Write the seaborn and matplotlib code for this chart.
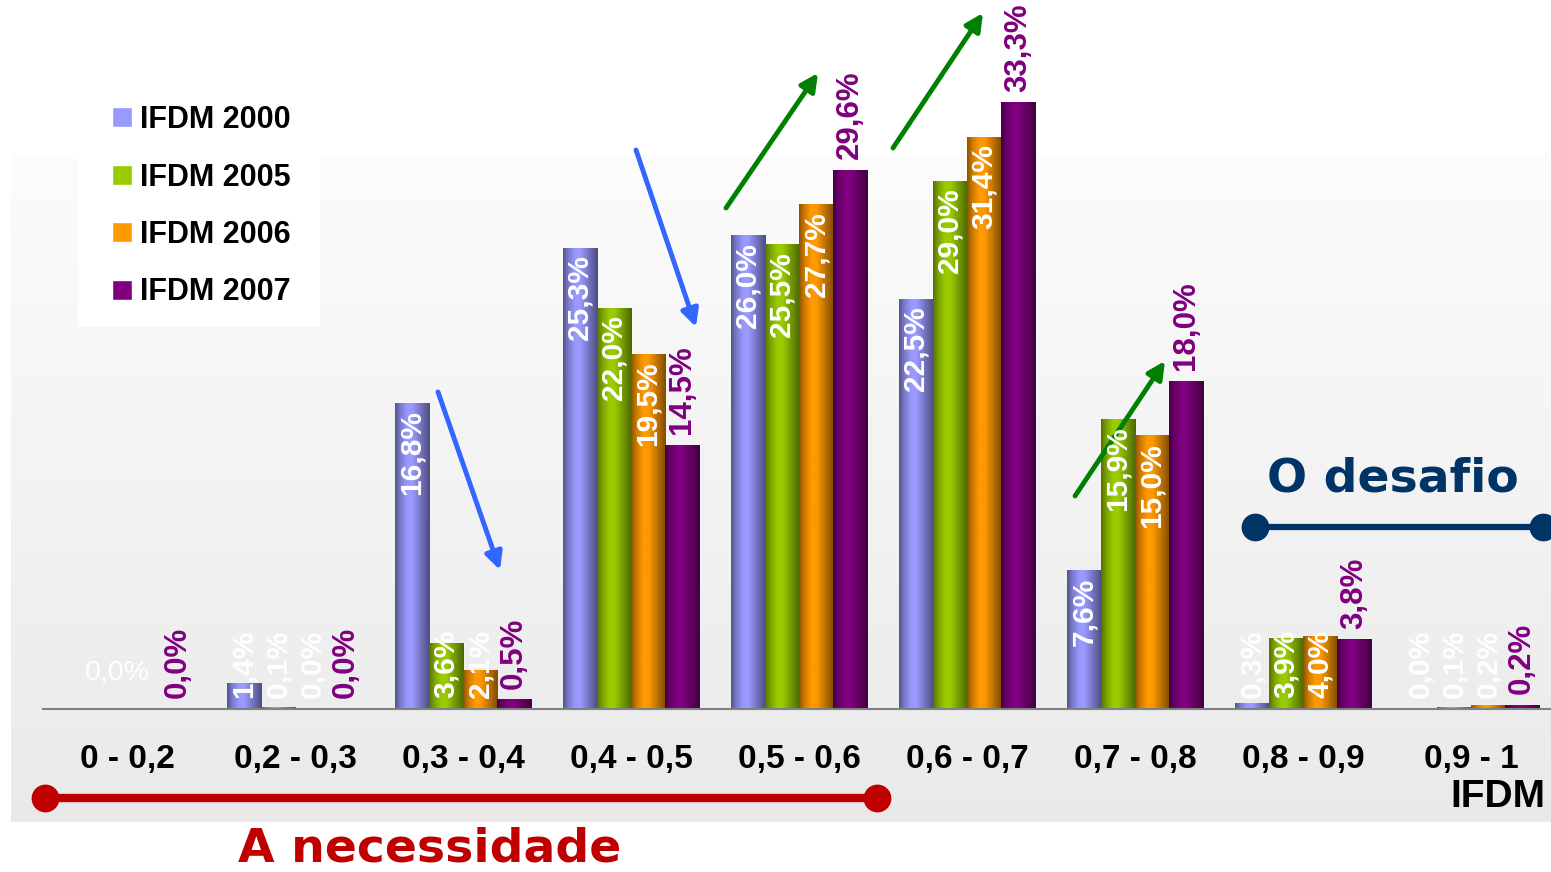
import numpy as np
import pandas as pd
import seaborn as sns
import matplotlib.pyplot as plt
import matplotlib.colors as mcolors
from matplotlib.lines import Line2D
from matplotlib.patches import Rectangle

# data
faixas = ['0 - 0,2', '0,2 - 0,3', '0,3 - 0,4', '0,4 - 0,5', '0,5 - 0,6',
          '0,6 - 0,7', '0,7 - 0,8', '0,8 - 0,9', '0,9 - 1']
series = ['IFDM 2000', 'IFDM 2005', 'IFDM 2006', 'IFDM 2007']
ifdm_2000 = [0.0, 1.4, 16.8, 25.3, 26.0, 22.5, 7.6, 0.3, 0.0]
ifdm_2005 = [0.0, 0.1, 3.6, 22.0, 25.5, 29.0, 15.9, 3.9, 0.1]
ifdm_2006 = [0.0, 0.0, 2.1, 19.5, 27.7, 31.4, 15.0, 4.0, 0.2]
ifdm_2007 = [0.0, 0.0, 0.5, 14.5, 29.6, 33.3, 18.0, 3.8, 0.2]
# labels that are not shown in the original (series index, group index)
hidden_labels = {(1, 0), (2, 0)}

mid_colors = ['#9999ff', '#99cc00', '#ff9900', '#800080']

W, H = 1551, 872


def px(x, y):
    """pixel position (from top-left) to figure fraction"""
    return x / W, 1 - y / H


def fmt(v):
    return f'{v:.1f}%'.replace('.', ',')


def bar_gradient(color, n=64):
    """horizontal shading so the bars look like cylinders"""
    t = np.linspace(0, 1, n)
    m = np.interp(t, [0, 0.15, 0.35, 0.5, 0.8, 1], [0.55, 0.8, 1.0, 1.0, 0.7, 0.5])
    rgb = np.array(mcolors.to_rgb(color))
    return (rgb[None, :] * m[:, None])[None, :, :]


df = pd.DataFrame({'Faixa': faixas * 4,
                   'Serie': np.repeat(series, len(faixas)),
                   'Valor': ifdm_2000 + ifdm_2005 + ifdm_2006 + ifdm_2007})

sns.set_style('white')
plt.rcParams['font.family'] = ['Liberation Sans', 'DejaVu Sans']

fig = plt.figure(figsize=(W / 100, H / 100), dpi=100)

# grey gradient panel behind the chart
bg = fig.add_axes([11 / W, (H - 822) / H, (W - 11) / W, (822 - 154) / H], zorder=0)
grad = np.linspace(0.985, 0.912, 200)[:, None]
bg.imshow(np.repeat(grad, 2, axis=1), cmap='gray', vmin=0, vmax=1, aspect='auto')
bg.axis('off')

# white box behind the legend
fig.add_artist(Rectangle(px(78, 327), (320 - 78) / W, (327 - 80) / H,
                         transform=fig.transFigure, facecolor='white',
                         edgecolor='none', zorder=0.5))

ax = fig.add_axes([43 / W, (H - 709) / H, 1512 / W, 38 * 18.2 / H], zorder=1)
ax.set_facecolor('none')

sns.barplot(data=df, x='Faixa', y='Valor', hue='Serie', palette=mid_colors,
            width=0.81, saturation=1, errorbar=None, ax=ax)

values = [ifdm_2000, ifdm_2005, ifdm_2006, ifdm_2007]
for s, cont in enumerate(ax.containers):
    for g, bar in enumerate(cont):
        x0, w, h = bar.get_x(), bar.get_width(), bar.get_height()
        if h > 0:
            ax.imshow(bar_gradient(mid_colors[s]), extent=(x0, x0 + w, 0, h),
                      aspect='auto', interpolation='bilinear', zorder=2)
        if (s, g) in hidden_labels:
            continue
        v = values[s][g]
        xc = x0 + w / 2
        if s == 3:
            ax.text(xc, v + 0.6, fmt(v), rotation=90, ha='center', va='bottom',
                    color='#800080', fontsize=22.5, fontweight='bold', zorder=4)
        elif s == 0 and g == 0:
            ax.text(g - 0.06, 2.0, fmt(v), ha='center', va='center',
                    color='white', fontsize=20.5, zorder=4)
        elif v >= 6:
            ax.text(xc, v - 0.38, fmt(v), rotation=90, ha='center', va='top',
                    color='white', fontsize=21.5, fontweight='bold', zorder=4)
        else:
            ax.text(xc, 0.6, fmt(v), rotation=90, ha='center', va='bottom',
                    color='white', fontsize=21.5, fontweight='bold', zorder=4)

ax.set_xlim(-0.5, 8.5)
ax.set_ylim(0, 38)
ax.set_xlabel('')
ax.set_ylabel('')
ax.set_yticks([])
for side in ['top', 'right', 'left']:
    ax.spines[side].set_visible(False)
ax.spines['bottom'].set_color('#808080')
ax.spines['bottom'].set_linewidth(1.5)
ax.set_xticks(np.arange(-0.5, 9, 1), minor=True)
ax.tick_params(axis='x', which='minor', length=10, width=1.3, color='#606060', direction='out')
ax.tick_params(axis='x', which='major', length=0, pad=25, labelcolor='black')
for lbl in ax.get_xticklabels():
    lbl.set_fontsize(24)
    lbl.set_fontweight('bold')

handles, labels = ax.get_legend_handles_labels()
leg = ax.legend(handles, labels, loc='upper left', bbox_to_anchor=px(112, 105),
                bbox_transform=fig.transFigure, frameon=False,
                prop={'size': 22, 'weight': 'bold'}, labelcolor='black',
                handlelength=0.65, handleheight=0.65, handletextpad=0.28,
                labelspacing=0.9, borderpad=0, borderaxespad=0)
leg.set_zorder(3)

fig.text(*px(1545, 807), 'IFDM', ha='right', va='baseline',
         fontsize=28, fontweight='bold', color='black')

# "A necessidade" bracket
fig.add_artist(Line2D([45 / W, 877 / W], [1 - 798 / H, 1 - 798 / H],
                      transform=fig.transFigure, color='#c00000', lw=6,
                      marker='o', markersize=19))
fig.text(*px(430, 871), 'A necessidade', ha='center', va='bottom',
         fontsize=34, fontweight='bold', color='#c00000', family='DejaVu Sans')

# "O desafio" bracket
fig.add_artist(Line2D([1255 / W, 1543 / W], [1 - 527 / H, 1 - 527 / H],
                      transform=fig.transFigure, color='#003366', lw=4.5,
                      marker='o', markersize=19))
fig.text(*px(1393, 492), 'O desafio', ha='center', va='baseline',
         fontsize=34, fontweight='bold', color='#003366', family='DejaVu Sans')

# trend arrows
arrows = [((438, 392), (500, 570), '#3366ff'),
          ((636, 150), (696, 327), '#3366ff'),
          ((726, 208), (818, 73), '#008000'),
          ((893, 148), (983, 13), '#008000'),
          ((1075, 496), (1165, 361), '#008000')]
for start, end, col in arrows:
    ax.annotate('', xy=px(*end), xytext=px(*start), xycoords='figure fraction',
                textcoords='figure fraction',
                arrowprops=dict(arrowstyle='-|>', color=col, lw=3.5,
                                mutation_scale=26, shrinkA=0, shrinkB=0))

fig.savefig('out.png', dpi=100)
